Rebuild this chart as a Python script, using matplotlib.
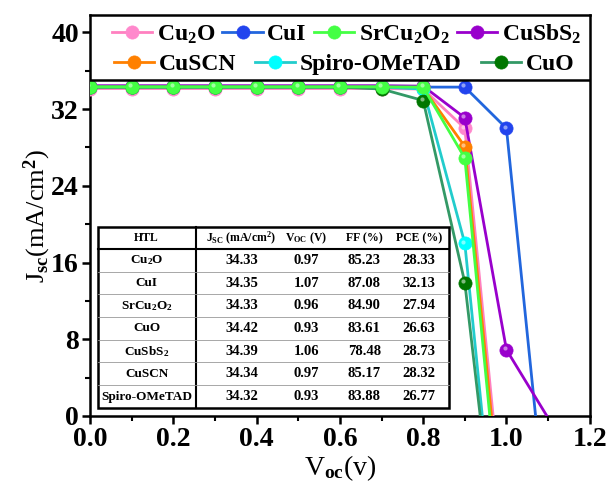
import matplotlib
matplotlib.use('Agg')
import matplotlib.pyplot as plt
import matplotlib.transforms as mtransforms
from matplotlib.patches import Rectangle
from matplotlib.ticker import MultipleLocator

plt.rcParams['font.family'] = ['Liberation Serif', 'DejaVu Serif']
plt.rcParams['font.weight'] = 'bold'
plt.rcParams['mathtext.fontset'] = 'custom'
plt.rcParams['mathtext.rm'] = 'Liberation Serif:bold'
plt.rcParams['mathtext.it'] = 'Liberation Serif:bold'
plt.rcParams['mathtext.bf'] = 'Liberation Serif:bold'

# J-V data (V in volts, J in mA/cm2)
labels = ['Cu$_2$O', 'CuI', 'SrCu$_2$O$_2$', 'CuSbS$_2$', 'CuSCN', 'Spiro-OMeTAD', 'CuO']
v_cu2o = [0.0, 0.1, 0.2, 0.3, 0.4, 0.5, 0.6, 0.7, 0.8, 0.9, 0.968]
j_cu2o = [34.15, 34.15, 34.15, 34.15, 34.15, 34.15, 34.15, 34.15, 34.1, 30.0, 0.0]
v_cui = [0.0, 0.1, 0.2, 0.3, 0.4, 0.5, 0.6, 0.7, 0.8, 0.9, 1.0, 1.07]
j_cui = [34.3, 34.3, 34.3, 34.3, 34.3, 34.3, 34.3, 34.3, 34.3, 34.3, 30.0, 0.0]
v_srcu2o2 = [0.0, 0.1, 0.2, 0.3, 0.4, 0.5, 0.6, 0.7, 0.8, 0.9, 0.96]
j_srcu2o2 = [34.33, 34.33, 34.33, 34.33, 34.33, 34.33, 34.33, 34.33, 34.3, 26.9, 0.0]
v_cusbs2 = [0.0, 0.1, 0.2, 0.3, 0.4, 0.5, 0.6, 0.7, 0.8, 0.9, 1.0, 1.097]
j_cusbs2 = [34.45, 34.45, 34.45, 34.45, 34.45, 34.45, 34.45, 34.45, 34.4, 31.1, 6.9, 0.0]
v_cuscn = [0.0, 0.1, 0.2, 0.3, 0.4, 0.5, 0.6, 0.7, 0.8, 0.9, 0.964]
j_cuscn = [34.3, 34.3, 34.3, 34.3, 34.3, 34.3, 34.3, 34.3, 34.2, 28.1, 0.0]
v_spiro = [0.0, 0.1, 0.2, 0.3, 0.4, 0.5, 0.6, 0.7, 0.8, 0.9, 0.942]
j_spiro = [34.3, 34.3, 34.3, 34.3, 34.3, 34.3, 34.3, 34.3, 34.1, 18.0, 0.0]
v_cuo = [0.0, 0.1, 0.2, 0.3, 0.4, 0.5, 0.6, 0.7, 0.8, 0.9, 0.937]
j_cuo = [34.3, 34.3, 34.3, 34.3, 34.3, 34.3, 34.3, 34.1, 32.9, 13.9, 0.0]

line_colors = ['#FF80C0', '#2266DD', '#44FF44', '#9900CC', '#FF8000', '#22CCCC', '#339966']
marker_colors = ['#FF88CC', '#2244EE', '#44FF44', '#9900CC', '#FF8000', '#00FFFF', '#007700']

# table values
tab_header = ['HTL', 'J$_{SC}$ (mA/cm$^2$)', 'V$_{OC}$ (V)', 'FF (%)', 'PCE (%)']
tab_htl = ['Cu$_2$O', 'CuI', 'SrCu$_2$O$_2$', 'CuO', 'CuSbS$_2$', 'CuSCN', 'Spiro-OMeTAD']
tab_jsc = ['34.33', '34.35', '34.33', '34.42', '34.39', '34.34', '34.32']
tab_voc = ['0.97', '1.07', '0.96', '0.93', '1.06', '0.97', '0.93']
tab_ff = ['85.23', '87.08', '84.90', '83.61', '78.48', '85.17', '83.88']
tab_pce = ['28.33', '32.13', '27.94', '26.63', '28.73', '28.32', '26.77']

fig = plt.figure(figsize=(6.13, 4.91), dpi=100)
ax = fig.add_axes([0.147, 0.153, 0.815, 0.816])

series = [(v_cu2o, j_cu2o), (v_cui, j_cui), (v_srcu2o2, j_srcu2o2), (v_cusbs2, j_cusbs2),
          (v_cuscn, j_cuscn), (v_spiro, j_spiro), (v_cuo, j_cuo)]
# draw order so that the bright green sits on top, like the original
order = [0, 1, 3, 4, 5, 6, 2]
hl = mtransforms.ScaledTranslation(-1.2 / 72, 1.2 / 72, fig.dpi_scale_trans)
handles = {}
for z, i in enumerate(order):
    v, j = series[i]
    n = len(v) - 1
    h, = ax.plot(v, j, '-o', color=line_colors[i], lw=2.0, ms=9.5,
                 mfc=marker_colors[i], mec=marker_colors[i], mew=0.5,
                 markevery=slice(0, n), zorder=3 + z, label=labels[i])
    # small glossy highlight on the balls
    ax.plot(v[:n], j[:n], 'o', color='white', ms=3.0, alpha=0.5, mew=0,
            transform=ax.transData + hl, zorder=3 + z)
    handles[i] = h

ax.set_xlim(0, 1.2)
ax.set_ylim(0, 41.8)
ax.xaxis.set_major_locator(MultipleLocator(0.2))
ax.xaxis.set_minor_locator(MultipleLocator(0.1))
ax.yaxis.set_major_locator(MultipleLocator(8))
ax.yaxis.set_minor_locator(MultipleLocator(4))
ax.set_xticklabels(['%.1f' % t for t in ax.get_xticks()])
ax.tick_params(which='major', direction='out', length=6, width=1.8, labelsize=20, pad=2)
ax.tick_params(which='minor', direction='out', length=3.5, width=1.5)
for s in ax.spines.values():
    s.set_linewidth(1.8)

ax.set_xlabel('V$_{oc}$(v)', fontsize=20, labelpad=1)
ax.set_ylabel('J$_{sc}$(mA/cm$^2$)', fontsize=19, labelpad=-1)

# legend: frame plus two free rows, as in the original
leg_kw = dict(loc='center left', frameon=False, fontsize=17, handlelength=1.7,
              handletextpad=0.2, borderaxespad=0, borderpad=0)
leg1 = ax.legend([handles[i] for i in [0, 1, 2, 3]], [labels[i] for i in [0, 1, 2, 3]],
                 ncol=4, bbox_to_anchor=(0.044, 0.953), columnspacing=0.3, **leg_kw)
leg1.set_zorder(21)
ax.add_artist(leg1)
leg2 = ax.legend([handles[i] for i in [4, 5, 6]], [labels[i] for i in [4, 5, 6]],
                 ncol=3, bbox_to_anchor=(0.048, 0.878), columnspacing=0.8, **leg_kw)
leg2.set_zorder(21)
ax.add_patch(Rectangle((0, 0.838), 1, 0.162, transform=ax.transAxes, facecolor='white',
                       edgecolor='black', lw=1.8, zorder=20))

# inset table drawn in axes fraction
tx0, tx1, ty0, ty1 = 0.016, 0.718, 0.020, 0.471
t_div = 0.211
t_head = 0.4165
row_h = (t_head - ty0) / len(tab_htl)
col_x = [0.113, 0.303, 0.433, 0.549, 0.658]
ax.add_patch(Rectangle((tx0, ty0), tx1 - tx0, ty1 - ty0, transform=ax.transAxes,
                       facecolor='white', edgecolor='black', lw=1.8, zorder=30))
ax.plot([t_div, t_div], [ty0, ty1], color='black', lw=1.5, transform=ax.transAxes, zorder=31)
ax.plot([tx0, tx1], [t_head, t_head], color='black', lw=1.5, transform=ax.transAxes, zorder=31)
for r in range(1, len(tab_htl)):
    yy = t_head - r * row_h
    ax.plot([tx0, tx1], [yy, yy], color='#999999', lw=0.6, transform=ax.transAxes, zorder=31)
for c, txt in enumerate(tab_header):
    ax.text(col_x[c], (t_head + ty1) / 2, txt, transform=ax.transAxes, ha='center', va='center',
            fontsize=8.5, zorder=32)
cols = [tab_htl, tab_jsc, tab_voc, tab_ff, tab_pce]
for r in range(len(tab_htl)):
    yc = t_head - (r + 0.5) * row_h
    for c in range(5):
        ax.text(col_x[c], yc, cols[c][r], transform=ax.transAxes, ha='center', va='center',
                fontsize=9.5 if c == 0 else 10.5, zorder=32)

plt.savefig('out.png', dpi=100)
